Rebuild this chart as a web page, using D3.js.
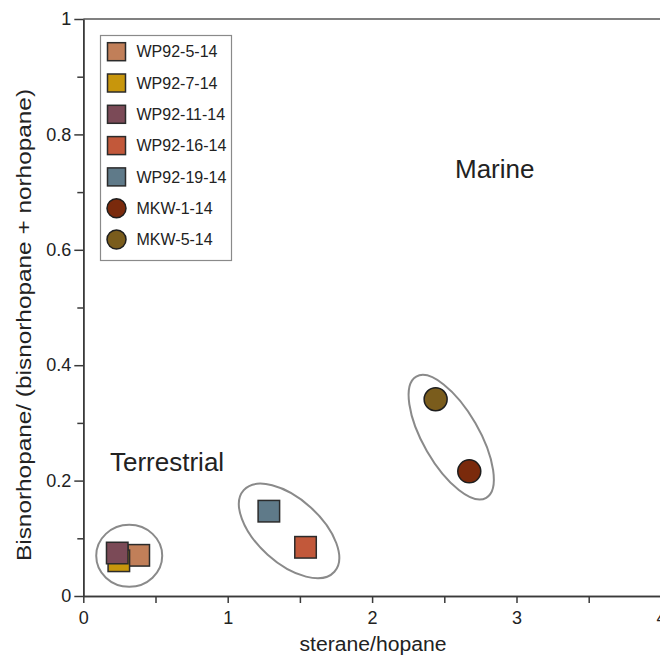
<!DOCTYPE html>
<html>
<head>
<meta charset="utf-8">
<script src="https://cdn.jsdelivr.net/npm/d3@7"></script>
<style>
  body { margin: 0; background: #fff; }
  text { font-family: "Liberation Sans", Arial, sans-serif; fill: #222; }
</style>
</head>
<body>
<svg id="chart" width="660" height="663"></svg>
<script>
// sample names and measured ratios
var samples = ["WP92-5-14", "WP92-7-14", "WP92-11-14", "WP92-16-14", "WP92-19-14", "MKW-1-14", "MKW-5-14"]
var steraneHopane = [0.384, 0.246, 0.235, 1.539, 1.285, 2.673, 2.44]
var bisnorRatio = [0.0705, 0.061, 0.0745, 0.0844, 0.147, 0.216, 0.341]
var symbols = ["square", "square", "square", "square", "square", "circle", "circle"]
var fills = ["#c17f59", "#c8960c", "#7b4a57", "#c2583a", "#5f7a89", "#7a2a0c", "#7a5c1c"]

var xMajor = [0, 1, 2, 3, 4]
var xMinor = [0.5, 1.5, 2.5, 3.5]
var yMajor = [0, 0.2, 0.4, 0.6, 0.8, 1]
var yMinor = [0.1, 0.3, 0.5, 0.7, 0.9]

// groupings drawn as outlines (centre in data units)
var groupCentreX = [0.318, 1.425, 2.548]
var groupCentreY = [0.0697, 0.1127, 0.2752]

var regionLabels = ["Marine", "Terrestrial"]
var regionX = [2.574, 0.185]
var regionY = [0.724, 0.2166]

var margin = {top: 19, left: 83.3},
    width = 577.6,
    height = 577;

var svg = d3.select("#chart")
var g = svg.append("g")
    .attr("transform", "translate(" + margin.left + "," + margin.top + ")");

var x = d3.scaleLinear().domain([0, 4]).range([0, width]);
var y = d3.scaleLinear().domain([0, 1]).range([height, 0]);

// top frame line
g.append("line")
    .attr("x1", 0).attr("x2", width)
    .attr("y1", 0).attr("y2", 0)
    .attr("stroke", "#808080")
    .attr("stroke-width", 1.8);

// axes
var yAxis = g.append("g")
    .call(d3.axisLeft(y).tickValues(yMajor).tickSize(9).tickSizeOuter(0).tickPadding(3)
        .tickFormat(function(d) { return String(+d.toFixed(1)); }));
var yAxisMinor = g.append("g")
    .call(d3.axisLeft(y).tickValues(yMinor).tickSize(6).tickSizeOuter(0).tickFormat(""));
var xAxis = g.append("g")
    .attr("transform", "translate(0," + height + ")")
    .call(d3.axisBottom(x).tickValues(xMajor).tickSize(7).tickSizeOuter(0).tickPadding(8)
        .tickFormat(d3.format("d")));
var xAxisMinor = g.append("g")
    .attr("transform", "translate(0," + height + ")")
    .call(d3.axisBottom(x).tickValues(xMinor).tickSize(7).tickSizeOuter(0).tickFormat(""));

[yAxis, yAxisMinor, xAxis, xAxisMinor].forEach(function(a) {
    a.selectAll("path, line").attr("stroke", "#3a3a3a").attr("stroke-width", 1.5);
    a.selectAll("text").attr("font-size", 18).attr("fill", "#222")
        .attr("font-family", "'Liberation Sans', Arial, sans-serif");
});

// axis titles
svg.append("text")
    .attr("x", 373).attr("y", 651)
    .attr("text-anchor", "middle")
    .attr("font-size", 20)
    .attr("textLength", 147)
    .attr("lengthAdjust", "spacingAndGlyphs")
    .text("sterane/hopane");

svg.append("text")
    .attr("transform", "translate(31,325) rotate(-90)")
    .attr("text-anchor", "middle")
    .attr("font-size", 20)
    .attr("textLength", 472)
    .attr("lengthAdjust", "spacingAndGlyphs")
    .text("Bisnorhopane/ (bisnorhopane + norhopane)");

// group outlines
var outlineRx = [33, 61, 70], outlineRy = [31, 32, 28], outlineAngle = [0, 42, 60];
g.selectAll(".grp")
    .data(groupCentreX)
    .enter().append("ellipse")
    .attr("class", "grp")
    .attr("transform", function(d, i) {
        return "translate(" + x(d) + "," + y(groupCentreY[i]) + ") rotate(" + outlineAngle[i] + ")";
    })
    .attr("rx", function(d, i) { return outlineRx[i]; })
    .attr("ry", function(d, i) { return outlineRy[i]; })
    .attr("fill", "none")
    .attr("stroke", "#8a8a8a")
    .attr("stroke-width", 2);

// region labels
g.selectAll(".region")
    .data(regionLabels)
    .enter().append("text")
    .attr("class", "region")
    .attr("x", function(d, i) { return x(regionX[i]); })
    .attr("y", function(d, i) { return y(regionY[i]); })
    .attr("font-size", 26)
    .text(function(d) { return d; });

// points
var points = samples.map(function(s, i) {
    return {name: s, sx: steraneHopane[i], by: bisnorRatio[i], sym: symbols[i], fill: fills[i]};
});

function drawSymbol(sel, sq, r) {
    sel.each(function(d) {
        var el = d3.select(this);
        if (d.sym === "square") {
            el.append("rect")
                .attr("x", -sq / 2).attr("y", -sq / 2)
                .attr("width", sq).attr("height", sq)
                .attr("fill", d.fill)
                .attr("stroke", "#2b2b2b").attr("stroke-width", 1.5);
        } else {
            el.append("circle")
                .attr("r", r)
                .attr("fill", d.fill)
                .attr("stroke", "#1e1e1e").attr("stroke-width", 1.5);
        }
    });
}

g.selectAll(".pt")
    .data(points)
    .enter().append("g")
    .attr("class", "pt")
    .attr("transform", function(d) { return "translate(" + x(d.sx) + "," + y(d.by) + ")"; })
    .call(drawSymbol, 21.5, 11.5);

// legend
var legend = svg.append("g").attr("transform", "translate(100.5,35.5)");
legend.append("rect")
    .attr("width", 131).attr("height", 225)
    .attr("fill", "#fff")
    .attr("stroke", "#8a8a8a")
    .attr("stroke-width", 1.2);

var items = legend.selectAll(".item")
    .data(points)
    .enter().append("g")
    .attr("class", "item")
    .attr("transform", function(d, i) { return "translate(16," + (16.2 + i * 31.3) + ")"; });
items.call(drawSymbol, 18, 9.5);
items.append("text")
    .attr("x", 20)
    .attr("dy", "0.36em")
    .attr("font-size", 16)
    .text(function(d) { return d.name; });
</script>
</body>
</html>
